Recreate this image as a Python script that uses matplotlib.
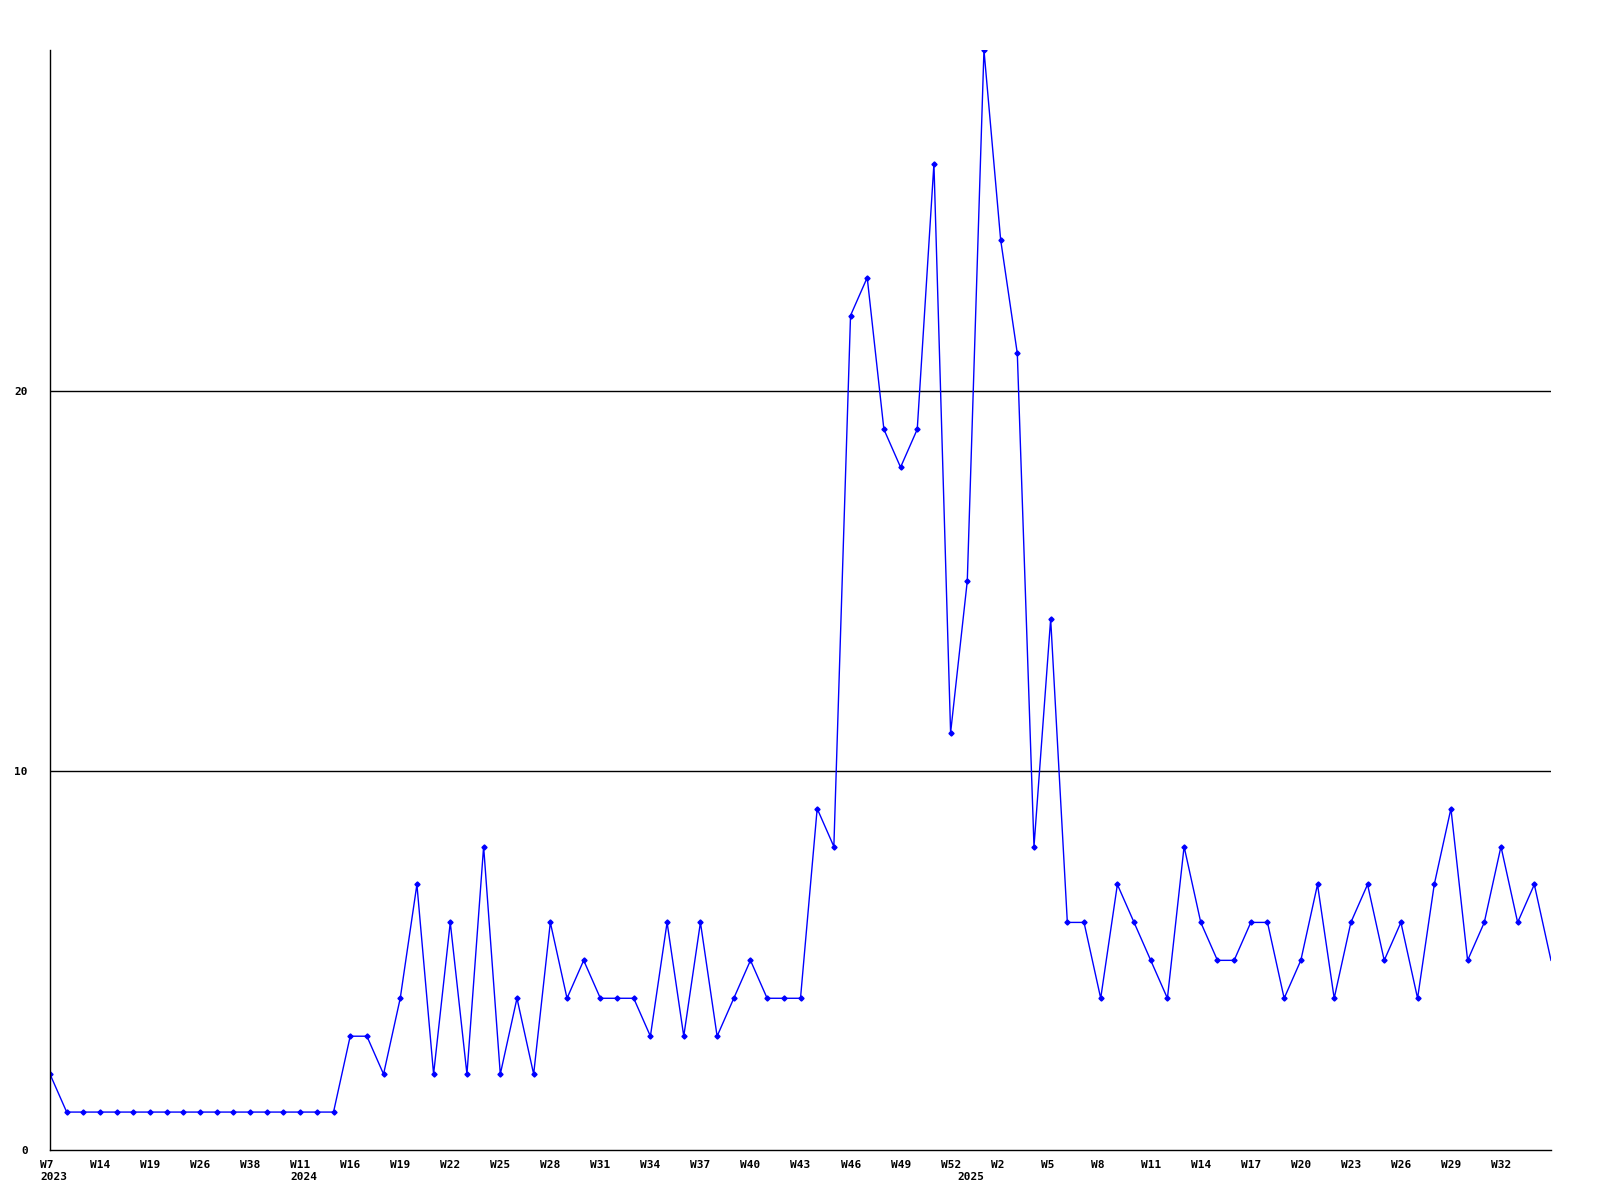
import matplotlib
matplotlib.use("Agg")
import matplotlib.pyplot as plt
import matplotlib.transforms as mtransforms

# weekly counts, one per point (reading left to right)
counts = [2, 1, 1, 1, 1, 1, 1, 1, 1, 1, 1, 1, 1, 1, 1, 1, 1, 1,
          3, 3, 2, 4, 7, 2, 6, 2, 8, 2, 4, 2, 6, 4, 5, 4, 4, 4,
          3, 6, 3, 6, 3, 4, 5, 4, 4, 4, 9, 8,
          22, 23, 19, 18, 19, 26, 11, 15, 29, 24, 21, 8, 14,
          6, 6, 4, 7, 6, 5, 4, 8, 6, 5, 5, 6, 6, 4, 5, 7, 4, 6, 7,
          5, 6, 4, 7, 9, 5, 6, 8, 6, 7, 5]

week_labels = ["W7", "W14", "W19", "W26", "W38", "W11", "W16", "W19", "W22", "W25",
               "W28", "W31", "W34", "W37", "W40", "W43", "W46", "W49", "W52", "W2",
               "W5", "W8", "W11", "W14", "W17", "W20", "W23", "W26", "W29", "W32"]
label_step = 3

year_pos = [0, 15, 55]
year_labels = ["2023", "2024", "2025"]

font = {"family": "DejaVu Sans Mono", "weight": "bold", "size": 8}

fig = plt.figure(figsize=(16, 12), dpi=100)
ax = fig.add_axes([50 / 1600, 50 / 1200, 1501 / 1600, 1100 / 1200])

x = list(range(len(counts)))
ax.plot(x, counts, color="#0000ff", lw=1.0, marker="D", ms=2.6,
        markevery=list(range(len(counts) - 1)))

ax.set_xlim(0, len(counts) - 1)
ax.set_ylim(0, max(counts))

for s in ["top", "right"]:
    ax.spines[s].set_visible(False)
for s in ["left", "bottom"]:
    ax.spines[s].set_color("black")
    ax.spines[s].set_linewidth(1.0)

# horizontal reference lines
for yv in [10, 20]:
    ax.axhline(yv, color="black", lw=1.0, zorder=0)

ax.set_yticks([0, 10, 20])
ax.set_yticklabels(["0", "10", "20"], fontdict=font)
ax.tick_params(axis="y", length=0, pad=16)

ticks = list(range(0, len(counts), label_step))[:len(week_labels)]
ax.set_xticks(ticks)
ax.set_xticklabels(week_labels, fontdict=font, ha="left")
ax.tick_params(axis="x", length=0, pad=7)
shift = mtransforms.ScaledTranslation(-10 / 100, 0, fig.dpi_scale_trans)
for lab in ax.get_xticklabels():
    lab.set_transform(lab.get_transform() + shift)

trans = mtransforms.blended_transform_factory(ax.transData, ax.transAxes)
for pos, yr in zip(year_pos, year_labels):
    ax.text(pos, 0, yr, transform=trans + mtransforms.ScaledTranslation(-10 / 100, -27 / 100, fig.dpi_scale_trans),
            ha="left", va="center", fontdict=font)

fig.savefig("out.png", dpi=100, facecolor="white")
